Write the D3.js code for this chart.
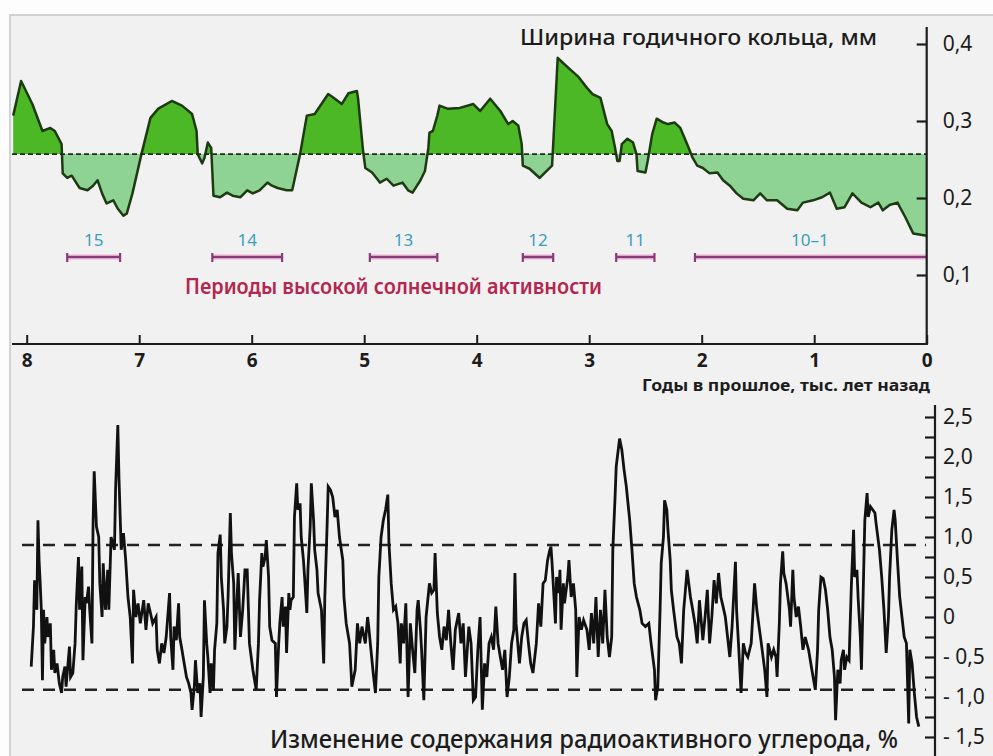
<!DOCTYPE html>
<html><head><meta charset="utf-8">
<script src="https://cdn.jsdelivr.net/npm/d3@7"></script>
<style>
body{margin:0;background:#fdfdfd;}
svg{display:block;font-family:"Noto Sans",sans-serif;}
</style>
</head><body>
<svg id="c" width="993" height="756"></svg>
<script>
// ---------- DATA ----------
const yearTicks = [8,7,6,5,4,3,2,1,0];
const ringTicks = [0.1,0.2,0.3,0.4];
const ringBase = 0.257;
// [thousand years ago, ring width mm]
const ringWidth = [[8.12,0.307],[8.05,0.352],[7.95,0.322],[7.86,0.287],[7.79,0.291],[7.75,0.287],[7.69,0.270],[7.68,0.232],[7.64,0.226],[7.60,0.229],[7.53,0.213],[7.46,0.210],[7.41,0.216],[7.37,0.223],[7.33,0.206],[7.29,0.193],[7.23,0.197],[7.19,0.186],[7.14,0.177],[7.11,0.180],[7.06,0.206],[6.98,0.257],[6.90,0.304],[6.83,0.316],[6.71,0.326],[6.62,0.320],[6.53,0.309],[6.49,0.287],[6.48,0.257],[6.44,0.245],[6.42,0.252],[6.39,0.272],[6.36,0.265],[6.34,0.203],[6.28,0.201],[6.22,0.207],[6.17,0.203],[6.10,0.201],[6.04,0.210],[5.99,0.206],[5.93,0.210],[5.86,0.220],[5.82,0.216],[5.77,0.213],[5.69,0.210],[5.64,0.210],[5.57,0.257],[5.51,0.307],[5.44,0.309],[5.38,0.322],[5.32,0.335],[5.26,0.329],[5.20,0.322],[5.14,0.336],[5.065,0.339],[5.055,0.330],[5.01,0.261],[4.99,0.239],[4.93,0.233],[4.86,0.220],[4.80,0.225],[4.74,0.216],[4.66,0.220],[4.61,0.210],[4.57,0.207],[4.50,0.223],[4.46,0.235],[4.43,0.265],[4.42,0.285],[4.39,0.287],[4.35,0.307],[4.33,0.320],[4.26,0.316],[4.15,0.317],[4.03,0.322],[3.97,0.313],[3.88,0.329],[3.79,0.313],[3.72,0.296],[3.68,0.300],[3.63,0.294],[3.60,0.270],[3.59,0.242],[3.53,0.238],[3.44,0.226],[3.38,0.235],[3.33,0.242],[3.30,0.326],[3.28,0.382],[3.23,0.375],[3.17,0.367],[3.10,0.358],[3.02,0.343],[2.97,0.335],[2.90,0.330],[2.84,0.296],[2.80,0.287],[2.77,0.265],[2.75,0.248],[2.73,0.248],[2.71,0.270],[2.66,0.277],[2.61,0.272],[2.58,0.257],[2.57,0.235],[2.50,0.233],[2.48,0.248],[2.44,0.283],[2.40,0.303],[2.34,0.298],[2.30,0.296],[2.24,0.298],[2.19,0.291],[2.13,0.270],[2.08,0.252],[2.04,0.242],[1.99,0.239],[1.93,0.232],[1.86,0.233],[1.81,0.223],[1.75,0.216],[1.69,0.206],[1.63,0.199],[1.54,0.197],[1.48,0.206],[1.42,0.197],[1.33,0.197],[1.24,0.186],[1.15,0.184],[1.10,0.194],[1.01,0.197],[0.93,0.201],[0.86,0.207],[0.80,0.186],[0.73,0.188],[0.66,0.206],[0.58,0.194],[0.50,0.188],[0.43,0.194],[0.39,0.184],[0.33,0.191],[0.26,0.194],[0.19,0.175],[0.12,0.154],[0,0.151]];

const periodLabels = ["15","14","13","12","11","10–1"];
const periodStart  = [7.64,6.35,4.95,3.59,2.76,2.06];
const periodEnd    = [7.17,5.73,4.35,3.32,2.42,0];

const c14Ticks = [-1.5,-1.25,-1,-0.75,-0.5,-0.25,0,0.25,0.5,0.75,1,1.25,1.5,1.75,2,2.25,2.5];
const c14Labels = [-1.5,-1,-0.5,0,0.5,1,1.5,2,2.5];
const c14Bands = [0.9,-0.91];
// [thousand years ago, radiocarbon change %]
const c14 = [[7.96,-0.62],[7.94,-0.12],[7.93,0.46],[7.91,0.09],[7.90,1.21],[7.89,0.71],[7.88,0.42],[7.87,0.09],[7.86,-0.79],[7.85,0.09],[7.84,-0.33],[7.82,0.00],[7.81,-0.25],[7.79,-0.08],[7.78,-0.66],[7.76,-0.41],[7.75,-0.70],[7.73,-0.58],[7.71,-0.83],[7.69,-0.95],[7.68,-0.75],[7.66,-0.62],[7.65,-0.87],[7.62,-0.37],[7.61,-0.75],[7.59,-0.70],[7.57,-0.33],[7.56,0.13],[7.54,0.75],[7.53,0.09],[7.51,0.63],[7.50,-0.54],[7.48,0.25],[7.47,0.17],[7.45,0.38],[7.44,0.09],[7.42,-0.33],[7.41,1.17],[7.40,1.82],[7.38,1.13],[7.36,1.00],[7.35,0.42],[7.33,0.00],[7.32,0.67],[7.30,0.09],[7.28,0.59],[7.27,0.09],[7.25,1.00],[7.22,0.84],[7.21,1.59],[7.19,2.40],[7.18,1.75],[7.16,0.84],[7.14,1.05],[7.12,0.71],[7.10,0.25],[7.08,0.00],[7.06,-0.58],[7.05,0.34],[7.03,0.00],[7.01,0.17],[6.99,-0.08],[6.96,0.21],[6.94,-0.16],[6.92,0.17],[6.90,0.05],[6.88,-0.08],[6.85,0.00],[6.84,-0.41],[6.82,-0.58],[6.80,-0.33],[6.78,-0.45],[6.76,-0.25],[6.73,0.30],[6.72,-0.25],[6.70,-0.66],[6.69,-0.12],[6.67,-0.29],[6.65,0.17],[6.64,-0.25],[6.62,-0.41],[6.60,-0.58],[6.58,-0.75],[6.56,-0.83],[6.54,-0.95],[6.53,-1.16],[6.51,-0.87],[6.50,-0.54],[6.48,-0.95],[6.46,-0.83],[6.45,-1.25],[6.43,-0.75],[6.42,0.21],[6.40,-0.33],[6.39,-0.50],[6.37,-0.95],[6.36,-0.58],[6.34,-0.91],[6.33,-0.41],[6.31,-0.08],[6.30,0.80],[6.28,1.03],[6.27,0.50],[6.25,0.09],[6.24,-0.33],[6.22,-0.12],[6.21,0.25],[6.19,1.30],[6.18,0.80],[6.16,0.42],[6.15,-0.41],[6.13,0.25],[6.12,0.55],[6.10,-0.25],[6.08,0.09],[6.06,0.59],
[6.04,0.59],[6.02,-0.33],[5.99,-0.66],[5.96,-0.91],[5.94,-0.33],[5.93,0.21],[5.91,0.80],[5.90,0.63],[5.88,0.75],[5.87,0.96],[5.85,0.50],[5.84,-0.12],[5.82,-0.29],[5.79,-0.33],[5.78,-1.00],[5.76,-0.33],[5.75,-0.08],[5.73,0.25],[5.72,-0.12],[5.70,0.13],[5.69,-0.45],[5.67,0.30],[5.66,0.09],[5.65,0.21],[5.63,0.25],[5.62,1.25],[5.60,1.67],[5.59,1.34],[5.57,1.42],[5.56,1.00],[5.54,0.71],[5.53,0.50],[5.51,0.05],[5.50,0.59],[5.48,1.13],[5.47,1.67],[5.45,1.21],[5.44,0.84],[5.42,0.59],[5.41,0.30],[5.38,0.09],[5.36,-0.58],[5.35,0.25],[5.33,1.13],[5.32,1.63],[5.30,1.59],[5.28,1.50],[5.26,1.25],[5.24,1.34],[5.22,1.00],[5.19,0.71],[5.18,0.25],[5.16,-0.08],[5.13,-0.33],[5.11,-0.87],[5.08,-0.66],[5.06,-0.08],[5.04,-0.33],[5.02,-0.12],[4.99,-0.33],[4.97,0.00],[4.96,-0.12],[4.94,-0.41],[4.92,-0.70],[4.90,-0.95],[4.88,-0.33],[4.87,0.50],[4.85,1.00],[4.83,1.21],[4.81,1.34],[4.79,1.53],[4.78,0.92],[4.76,0.42],[4.74,0.09],[4.72,0.13],[4.70,-0.08],[4.68,-0.58],[4.67,-0.08],[4.65,-0.33],[4.63,0.17],[4.61,-1.00],[4.59,-0.08],[4.57,-0.41],[4.55,-0.70],[4.53,0.09],[4.52,0.21],[4.50,-0.16],[4.49,-0.41],[4.47,-1.04],[4.45,0.00],[4.42,0.42],[4.40,0.30],[4.38,0.34],[4.37,0.80],[4.35,0.05],[4.33,-0.25],[4.31,-0.41],[4.29,-0.12],[4.27,-0.29],[4.25,0.09],[4.23,-0.33],[4.21,-0.66],[4.19,-0.16],[4.16,0.05],[4.14,-0.33],[4.12,-0.08],[4.10,-0.75],[4.07,-0.12],[4.05,-0.33],[4.03,-1.04],
[4.01,-1.00],[3.99,-0.41],[3.97,0.00],[3.95,-1.16],[3.93,-0.58],[3.91,-0.75],[3.89,-0.33],[3.87,-0.25],[3.85,-0.41],[3.83,0.13],[3.81,-0.33],[3.79,-0.50],[3.77,-0.66],[3.75,-0.41],[3.73,-1.00],[3.71,-0.75],[3.69,-0.33],[3.67,-0.16],[3.66,0.55],[3.65,-0.08],[3.62,-0.58],[3.60,-0.25],[3.58,-0.08],[3.56,-0.04],[3.54,-0.33],[3.52,-0.58],[3.50,-0.70],[3.47,-0.33],[3.45,0.17],[3.43,-0.12],[3.41,0.42],[3.39,0.46],[3.37,0.71],[3.35,0.84],[3.34,0.88],[3.33,0.67],[3.30,-0.08],[3.29,0.50],[3.27,0.30],[3.26,0.59],[3.25,-0.16],[3.23,0.42],[3.22,0.17],[3.19,0.50],[3.18,0.71],[3.16,0.25],[3.14,0.42],[3.12,0.09],[3.11,-0.75],[3.09,0.00],[3.07,-0.16],[3.05,-0.04],[3.02,-0.16],[3.00,-0.41],[2.98,0.05],[2.96,-0.33],[2.94,0.25],[2.92,-0.50],[2.90,0.09],[2.88,-0.33],[2.86,0.34],[2.84,-0.25],[2.82,-0.50],[2.80,-0.25],[2.79,0.84],[2.77,1.50],[2.76,1.88],[2.73,2.23],[2.71,2.09],[2.69,1.84],[2.67,1.63],[2.64,1.21],[2.62,0.84],[2.60,0.42],[2.58,0.25],[2.55,0.09],[2.53,-0.08],[2.50,-0.12],[2.47,-0.08],[2.45,-0.33],[2.42,-0.66],[2.41,-1.04],[2.39,-0.87],[2.37,0.09],[2.36,0.67],[2.34,1.00],[2.33,1.46],[2.31,1.34],[2.30,1.09],[2.28,0.71],[2.27,0.34],[2.25,0.09],[2.22,-0.25],[2.20,-0.33],[2.18,-0.58],[2.16,0.09],[2.15,0.25],[2.13,0.59],[2.10,0.25],[2.08,0.09],[2.06,-0.08],
[2.04,-0.33],[2.02,0.21],[1.99,-0.29],[1.97,0.00],[1.95,0.34],[1.93,-0.33],[1.91,0.00],[1.89,0.46],[1.87,0.17],[1.85,0.55],[1.83,0.25],[1.81,0.13],[1.79,0.00],[1.77,-0.25],[1.75,-0.50],[1.73,-0.12],[1.70,0.69],[1.69,0.09],[1.67,-0.41],[1.65,-0.95],[1.63,-0.33],[1.61,-0.45],[1.59,-0.50],[1.56,-0.33],[1.54,0.17],[1.53,0.42],[1.51,0.09],[1.49,-0.12],[1.47,-0.33],[1.44,-0.66],[1.42,-1.00],[1.41,-0.33],[1.38,-0.50],[1.36,-0.41],[1.34,-0.50],[1.33,-0.75],[1.31,-0.08],[1.30,0.42],[1.28,0.82],[1.27,0.55],[1.25,0.42],[1.22,0.09],[1.21,-0.12],[1.19,0.59],[1.18,0.25],[1.16,0.00],[1.14,0.13],[1.12,-0.12],[1.10,-0.41],[1.08,-0.25],[1.05,-0.41],[1.03,-0.58],[1.01,-0.75],[0.99,-0.91],[0.97,-0.41],[0.96,0.09],[0.94,0.50],[0.92,0.48],[0.90,0.34],[0.88,0.09],[0.86,-0.25],[0.84,-0.41],[0.82,-0.75],[0.81,-1.29],[0.79,-0.66],[0.77,-0.83],[0.76,-0.54],[0.74,-0.41],[0.73,-0.66],[0.71,-0.50],[0.69,-0.54],[0.67,0.38],[0.65,1.09],[0.64,0.50],[0.62,0.59],[0.61,0.25],[0.59,-0.25],[0.58,-0.66],[0.56,0.59],[0.55,1.21],[0.53,1.55],[0.52,1.25],[0.50,1.38],[0.48,1.34],[0.46,1.30],[0.45,1.17],[0.42,0.84],[0.40,0.50],[0.38,0.09],[0.36,-0.45],[0.34,0.00],[0.33,0.50],[0.31,1.09],[0.29,1.34],[0.28,1.21],[0.26,0.71],[0.24,0.25],[0.22,0.00],[0.20,-0.25],[0.18,-0.33],[0.16,-1.33],[0.15,-0.41],[0.13,-0.58],[0.11,-0.95],[0.09,-1.25],[0.07,-1.37]];

// ---------- DRAW ----------
const svg = d3.select("#c");
const ink = "#1c1c1c";

// panel
svg.append("rect").attr("x",10).attr("y",15).attr("width",1000).attr("height",800)
  .attr("fill","#f1f1f1").attr("stroke","#d2d2d2").attr("stroke-width",2);

const x = d3.scaleLinear().domain([8,0]).range([26.7,926.7]);

// ===== top panel =====
const yTop = d3.scaleLinear().domain([0,0.4]).range([352,44]);
const baseY = yTop(ringBase);
const defs = svg.append("defs");
defs.append("clipPath").attr("id","above").append("rect").attr("x",11).attr("y",0).attr("width",916).attr("height",baseY);
defs.append("clipPath").attr("id","below").append("rect").attr("x",11).attr("y",baseY).attr("width",916).attr("height",300);

const area = d3.area().x(d=>x(d[0])).y0(baseY).y1(d=>yTop(d[1]));
svg.append("path").datum(ringWidth).attr("d",area).attr("fill","#4cb826").attr("clip-path","url(#above)");
svg.append("path").datum(ringWidth).attr("d",area).attr("fill","#8ed393").attr("clip-path","url(#below)");
svg.append("path").datum(ringWidth).attr("d",d3.line().x(d=>x(d[0])).y(d=>yTop(d[1])))
  .attr("fill","none").attr("stroke","#1d3a12").attr("stroke-width",2.5).attr("stroke-linejoin","round");
svg.append("line").attr("x1",12).attr("x2",x(0)).attr("y1",baseY).attr("y2",baseY)
  .attr("stroke","#1d2d18").attr("stroke-width",1.6).attr("stroke-dasharray","5,3");

// periods
const pg = svg.append("g");
periodLabels.forEach((lab,i)=>{
  const x1 = x(periodStart[i]), x2 = x(periodEnd[i]), yb = 257;
  pg.append("line").attr("x1",x1).attr("x2",x2).attr("y1",yb).attr("y2",yb)
    .attr("stroke","#f3cfe6").attr("stroke-width",6);
  pg.append("line").attr("x1",x1).attr("x2",x2).attr("y1",yb).attr("y2",yb)
    .attr("stroke","#8a3a78").attr("stroke-width",2.6);
  pg.append("line").attr("x1",x1).attr("x2",x1).attr("y1",yb-4).attr("y2",yb+5)
    .attr("stroke","#8a3a78").attr("stroke-width",2.2);
  if (periodEnd[i] > 0)
    pg.append("line").attr("x1",x2).attr("x2",x2).attr("y1",yb-4).attr("y2",yb+5)
      .attr("stroke","#8a3a78").attr("stroke-width",2.2);
  pg.append("text").attr("x",(x1+x2)/2 + (periodEnd[i]===0? -1:0)).attr("y",246).attr("text-anchor","middle")
    .attr("font-size",17).attr("fill","#3a9ebd").text(lab);
});

svg.append("text").attr("x",185).attr("y",294).attr("font-size",21).attr("font-weight",600)
  .attr("fill","#b3264e").attr("textLength",417).attr("lengthAdjust","spacingAndGlyphs")
  .text("Периоды высокой солнечной активности");

svg.append("text").attr("x",520).attr("y",45).attr("font-size",22).attr("font-weight",500)
  .attr("fill",ink).attr("textLength",357).attr("lengthAdjust","spacingAndGlyphs")
  .text("Ширина годичного кольца, мм");

// top x axis
svg.append("line").attr("x1",12).attr("x2",x(0)+1).attr("y1",344).attr("y2",344).attr("stroke",ink).attr("stroke-width",2.2);
const xAxis = svg.append("g").attr("transform","translate(0,344)")
  .call(d3.axisBottom(x).tickValues(yearTicks).tickSizeInner(-9).tickSizeOuter(0).tickPadding(10).tickFormat(d3.format("d")));
xAxis.select(".domain").remove();
xAxis.selectAll("line").attr("stroke",ink).attr("stroke-width",2);
xAxis.selectAll("text").attr("font-size",19).attr("font-weight",700).attr("fill",ink).attr("font-family","Noto Sans");

svg.append("text").attr("x",642).attr("y",391).attr("font-size",16).attr("font-weight",700)
  .attr("fill",ink).attr("textLength",288).attr("lengthAdjust","spacingAndGlyphs")
  .text("Годы в прошлое, тыс. лет назад");

// top right axis
svg.append("line").attr("x1",x(0)).attr("x2",x(0)).attr("y1",27).attr("y2",345).attr("stroke",ink).attr("stroke-width",2.2);
const yAxTop = svg.append("g").attr("transform",`translate(${x(0)},0)`)
  .call(d3.axisRight(yTop).tickValues(ringTicks).tickSizeInner(-10).tickSizeOuter(0).tickPadding(16)
    .tickFormat(d=>d3.format(".1f")(d).replace(".",",")));
yAxTop.select(".domain").remove();
yAxTop.selectAll("line").attr("stroke",ink).attr("stroke-width",2.2);
yAxTop.selectAll("text").attr("font-size",21).attr("fill",ink).attr("font-family","Noto Sans");

// ===== bottom panel =====
const yBot = d3.scaleLinear().domain([-1.5,2.5]).range([737,417]);
c14Bands.forEach(v=>{
  svg.append("line").attr("x1",22).attr("x2",926).attr("y1",yBot(v)).attr("y2",yBot(v))
    .attr("stroke","#222").attr("stroke-width",2.6).attr("stroke-dasharray","12,9");
});
svg.append("path").datum(c14).attr("d",d3.line().x(d=>x(d[0])).y(d=>yBot(d[1])))
  .attr("fill","none").attr("stroke","#111").attr("stroke-width",2.8).attr("stroke-linejoin","miter");

const axX = 935;
svg.append("line").attr("x1",axX).attr("x2",axX).attr("y1",405).attr("y2",760).attr("stroke",ink).attr("stroke-width",2.2);
const fmtB = d=>{
  if (!c14Labels.includes(d)) return "";
  if (d===0) return "0";
  const s = d3.format(".1f")(Math.abs(d)).replace(".",",");
  return d<0 ? "- "+s : s;
};
const yAxBot = svg.append("g").attr("transform",`translate(${axX},0)`)
  .call(d3.axisRight(yBot).tickValues(c14Ticks).tickSizeInner(-10).tickSizeOuter(0).tickPadding(8).tickFormat(fmtB));
yAxBot.select(".domain").remove();
yAxBot.selectAll("line").attr("stroke",ink).attr("stroke-width",2.2);
yAxBot.selectAll("text").attr("font-size",21).attr("fill",ink).attr("font-family","Noto Sans");

svg.append("text").attr("x",270).attr("y",748).attr("font-size",25).attr("font-weight",500)
  .attr("fill",ink).attr("textLength",628).attr("lengthAdjust","spacingAndGlyphs")
  .text("Изменение содержания радиоактивного углерода, %");
</script>
</body></html>
